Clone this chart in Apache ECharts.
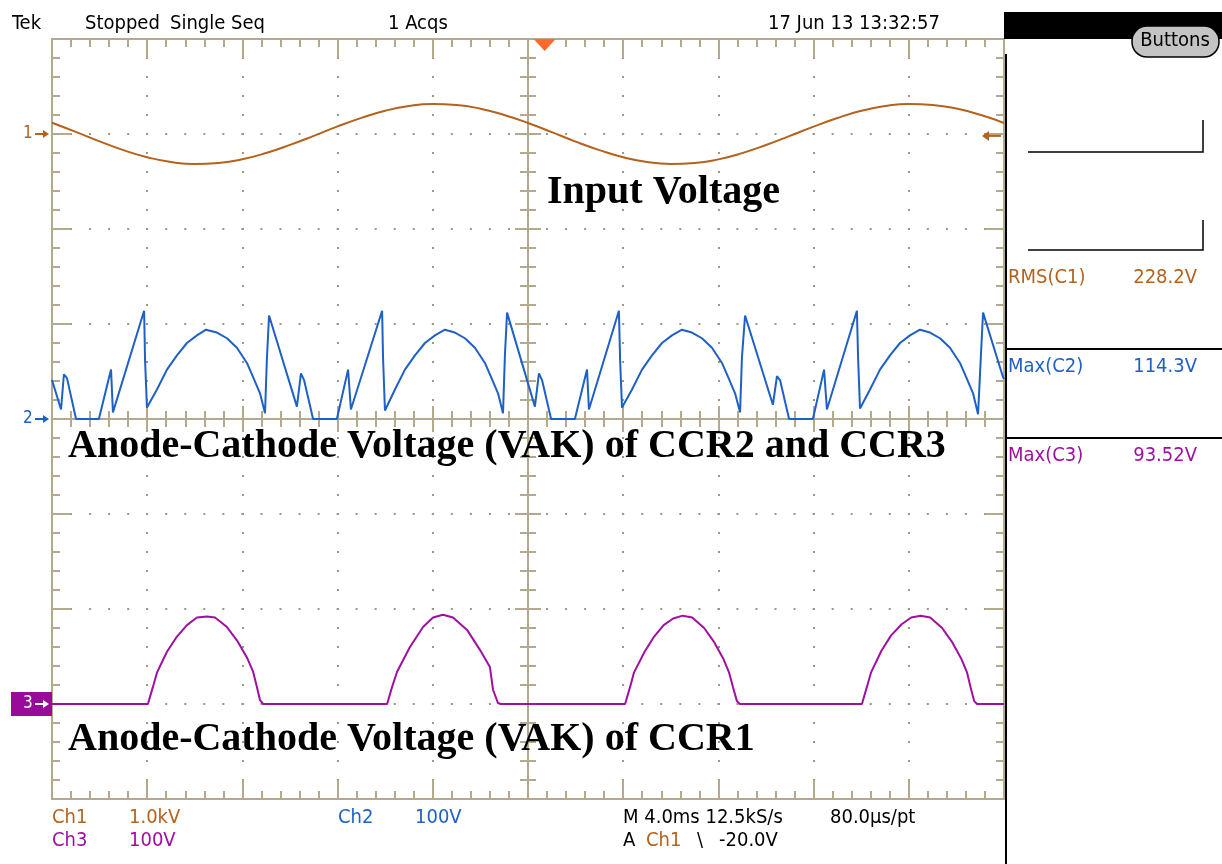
<!DOCTYPE html>
<html>
<head>
<meta charset="utf-8">
<title>Scope capture - CCR voltages</title>
<script src="https://cdn.jsdelivr.net/npm/echarts@6/dist/echarts.min.js"></script>
<style>
  html, body { margin: 0; padding: 0; background: #fff; }
  #chart { width: 1222px; height: 864px; }
</style>
</head>
<body>
<div id="chart"></div>
<script>
// time in ms (4 ms/div, 10 div), values in volts
const ch1Time = [0, 1, 2, 3, 4, 5, 6, 7, 8, 9, 10, 11, 12, 13, 14, 15, 16, 17, 18, 19, 20,
  21, 22, 23, 24, 25, 26, 27, 28, 29, 30, 31, 32, 33, 34, 35, 36, 37, 38, 39, 40]
const ch1Volts = [118, 22, -78, -170, -244, -295, -316, -305, -266, -200, -115, -20, 80, 170, 245, 295, 316, 306, 266, 200, 116,
  20, -80, -170, -245, -295, -315, -306, -267, -201, -116, -20, 78, 168, 244, 294, 316, 306, 268, 202, 116]

const ch2Time = [0.00, 0.38, 0.50, 0.63, 1.01, 1.97, 2.48, 2.56, 3.87, 3.91, 3.99,
  4.41, 4.83, 5.25, 5.67, 6.09, 6.47, 6.93, 7.35, 7.77, 8.19, 8.45, 8.74, 8.95,
  9.03, 9.12, 10.29, 10.46, 10.59, 10.97, 11.97, 12.44, 12.56, 13.87, 13.91, 13.99,
  14.41, 14.83, 15.25, 15.67, 16.09, 16.51, 16.93, 17.35, 17.77, 18.19, 18.45, 18.74, 18.95,
  19.03, 19.12, 20.29, 20.46, 20.59, 20.97, 21.97, 22.48, 22.56, 23.82, 23.87, 23.95,
  24.37, 24.79, 25.21, 25.63, 26.05, 26.47, 26.89, 27.31, 27.73, 28.15, 28.41, 28.70, 28.91,
  28.99, 29.12, 30.29, 30.46, 30.59, 30.97, 31.97, 32.44, 32.56, 33.82, 33.87, 33.95,
  34.37, 34.79, 35.21, 35.63, 36.05, 36.47, 36.89, 37.31, 37.73, 38.15, 38.41, 38.70, 38.91,
  39.03, 39.12, 39.96, 40.00]
const ch2Volts = [41, 10, 47, 43, 0, 0, 52, 7, 114, 62, 12,
  31, 52, 67, 80, 88, 94, 91, 85, 75, 59, 44, 27, 6,
  64, 109, 13, 48, 41, 0, 0, 52, 10, 114, 64, 9,
  31, 52, 67, 80, 88, 94, 91, 85, 75, 59, 44, 27, 6,
  67, 112, 13, 48, 41, 0, 0, 52, 10, 114, 62, 12,
  31, 52, 67, 80, 88, 94, 91, 85, 75, 59, 44, 27, 7,
  65, 109, 15, 45, 41, 0, 0, 52, 10, 114, 64, 11,
  31, 52, 67, 80, 88, 94, 91, 85, 75, 59, 44, 27, 5,
  67, 112, 44, 42]

const ch3Time = [0, 4.03, 4.24, 4.41, 4.83, 5.25, 5.67, 6.09, 6.51, 6.85, 7.35, 7.77, 8.19, 8.45, 8.61, 8.74, 8.87,
  14.08, 14.29, 14.50, 15.04, 15.59, 16.01, 16.43, 16.85, 17.44, 17.98, 18.40, 18.53, 18.74, 18.85,
  24.08, 24.29, 24.45, 24.90, 25.30, 25.70, 26.10, 26.50, 26.90, 27.40, 27.80, 28.20, 28.45, 28.62, 28.78, 28.90,
  34.03, 34.24, 34.41, 34.85, 35.25, 35.70, 36.10, 36.50, 36.90, 37.40, 37.80, 38.20, 38.45, 38.60, 38.75, 38.87, 40]
const ch3Volts = [0, 0, 18, 33, 55, 71, 83, 91, 92, 91, 81, 67, 49, 34, 18, 4, 0,
  0, 18, 34, 60, 81, 91, 94, 91, 78, 57, 39, 15, 1, 0,
  0, 18, 33, 55, 71, 83, 90, 93, 91, 80, 66, 48, 33, 17, 3, 0,
  0, 18, 33, 56, 72, 84, 91, 93, 91, 80, 66, 48, 33, 17, 3, 0, 0]

const triggerTime = 20.7
const triggerLevel = -20

const statusText = ['Tek', 'Stopped', 'Single Seq', '1 Acqs', '17 Jun 13 13:32:57']
const readoutNames = ['RMS(C1)', 'Max(C2)', 'Max(C3)']
const readoutValues = ['228.2V', '114.3V', '93.52V']
const channelNames = ['Ch1', 'Ch2', 'Ch3']
const channelScales = ['1.0kV', '100V', '100V']
const timebaseText = ['M 4.0ms 12.5kS/s', '80.0\u00b5s/pt']
const triggerText = ['A', 'Ch1', '\\', '-20.0V']
const captions = ['Input Voltage', 'Anode-Cathode Voltage (VAK) of CCR2 and CCR3', 'Anode-Cathode Voltage (VAK) of CCR1']

const colors = { ch1: '#b5621c', ch2: '#1f60c4', ch3: '#a010a0' }
const grat = '#b3aa8e'
const dotColor = '#9e977f'
const scopeFont = '20px "DejaVu Sans Condensed", "DejaVu Sans", sans-serif'
const markerFont = '17px "DejaVu Sans Condensed", "DejaVu Sans", sans-serif'
const captionFont = 'bold 40px "Liberation Serif", "Times New Roman", serif'

const zip = (ts, vs) => ts.map((t, i) => [t, vs[i]])

const chart = echarts.init(document.getElementById('chart'))

const lineSt = { color: grat, width: 2 }

function timeAxis(position, inside, major, minor, onZero, split) {
  return {
    type: 'value', min: 0, max: 40, interval: 4, position: position,
    axisLine: { show: true, onZero: onZero, onZeroAxisIndex: onZero ? 1 : undefined, lineStyle: lineSt },
    axisTick: { show: true, inside: inside, length: major, lineStyle: lineSt },
    minorTick: { show: true, splitNumber: 5, length: minor, lineStyle: lineSt },
    axisLabel: { show: false },
    splitLine: split
      ? { show: true, lineStyle: { color: dotColor, width: 2, type: [2, 17], dashOffset: 1 } }
      : { show: false }
  }
}

function divAxis(position, inside, major, minor, onZero, split) {
  return {
    type: 'value', min: -400, max: 400, interval: 100, position: position,
    axisLine: { show: true, onZero: onZero, onZeroAxisIndex: onZero ? 2 : undefined, lineStyle: lineSt },
    axisTick: { show: true, inside: inside, length: major, lineStyle: lineSt },
    minorTick: { show: true, splitNumber: 5, length: minor, lineStyle: lineSt },
    axisLabel: { show: false },
    splitLine: split
      ? { show: true, lineStyle: { color: dotColor, width: 2, type: [2, 17.04], dashOffset: 1 } }
      : { show: false }
  }
}

function trace(name, yIndex, data, color, smooth) {
  return {
    name: name, type: 'line', xAxisIndex: 0, yAxisIndex: yIndex,
    data: data, showSymbol: false, symbol: 'none', smooth: smooth,
    lineStyle: { color: color, width: 2 }, z: 5
  }
}

chart.setOption({
  animation: false,
  backgroundColor: '#fff',
  grid: { left: 52, top: 39, width: 952, height: 760, containLabel: false, outerBoundsMode: 'none' },
  xAxis: [
    timeAxis('bottom', true, 19, 8, false, true),
    timeAxis('top', true, 19, 8, false, false),
    { type: 'value', min: -20, max: 20, show: false },
    timeAxis('bottom', true, 13, 8, true, false),
    timeAxis('bottom', false, 13, 8, true, false)
  ],
  yAxis: [
    { type: 'value', min: -7000, max: 1000, show: false },
    divAxis('left', true, 19, 8, false, true),
    { type: 'value', min: -100, max: 700, show: false },
    divAxis('right', true, 19, 8, false, false),
    divAxis('left', true, 13, 8, true, false),
    divAxis('left', false, 13, 8, true, false)
  ],
  series: [
    trace('Ch1', 0, zip(ch1Time, ch1Volts), colors.ch1, true),
    trace('Ch2', 1, zip(ch2Time, ch2Volts), colors.ch2, false),
    trace('Ch3', 2, zip(ch3Time, ch3Volts), colors.ch3, false)
  ]
})

// overlay: readouts, captions and the markers placed from the axes
const g1 = chart.convertToPixel({ yAxisIndex: 0 }, 0)
const g2 = chart.convertToPixel({ yAxisIndex: 1 }, 0)
const g3 = chart.convertToPixel({ yAxisIndex: 2 }, 0)
const gTrig = chart.convertToPixel({ yAxisIndex: 0 }, triggerLevel)
const xTrig = chart.convertToPixel({ xAxisIndex: 0 }, triggerTime)
const xRight = chart.convertToPixel({ xAxisIndex: 0 }, 40)

function txt(x, y, s, fill, font, align) {
  return { type: 'text', x: x, y: y, silent: true, z: 30,
    style: { text: s, fill: fill, font: font || scopeFont, align: align || 'left', verticalAlign: 'middle' } }
}
function seg(points, stroke, w) {
  return { type: 'polyline', silent: true, z: 20, shape: { points: points }, style: { stroke: stroke, lineWidth: w || 2, fill: null } }
}
function arrowRight(x, y, color) {
  return [
    seg([[x, y], [x + 9, y]], color, 2),
    { type: 'polygon', silent: true, z: 21, shape: { points: [[x + 8, y - 4], [x + 14, y], [x + 8, y + 4]] }, style: { fill: color } }
  ]
}

const gfx = []
// status line
const statusX = [12, 85, 170, 388, 768]
statusText.forEach((s, i) => gfx.push(txt(statusX[i], 24, s, '#000')))

// channel ground markers
gfx.push(txt(23, g1, '1', colors.ch1, markerFont))
gfx.push(...arrowRight(35, g1, colors.ch1))
gfx.push(txt(23, g2, '2', colors.ch2, markerFont))
gfx.push(...arrowRight(35, g2, colors.ch2))
gfx.push({ type: 'rect', silent: true, z: 20, shape: { x: 11, y: g3 - 12, width: 41, height: 24 }, style: { fill: '#9a0a9a' } })
gfx.push(txt(23, g3, '3', '#fff', markerFont))
gfx.push(...arrowRight(35, g3, '#fff'))

// trigger position and level
gfx.push({ type: 'polygon', silent: true, z: 22, shape: { points: [[xTrig - 11, 39], [xTrig + 11, 39], [xTrig, 51]] }, style: { fill: '#ff6a2b' } })
gfx.push({ type: 'polygon', silent: true, z: 22, shape: { points: [[xRight - 22, gTrig], [xRight - 15, gTrig - 5], [xRight - 15, gTrig + 5]] }, style: { fill: colors.ch1 } })
gfx.push(seg([[xRight - 16, gTrig], [xRight - 3, gTrig]], colors.ch1, 2))

// captions
gfx.push(txt(547, 193, captions[0], '#000', captionFont))
gfx.push(txt(68, 447, captions[1], '#000', captionFont))
gfx.push(txt(68, 740, captions[2], '#000', captionFont))

// side panel
gfx.push({ type: 'rect', silent: true, z: 20, shape: { x: 1004, y: 12, width: 218, height: 27 }, style: { fill: '#000' } })
gfx.push({ type: 'rect', silent: true, z: 21, shape: { x: 1132, y: 26, width: 87, height: 31, r: 15 }, style: { fill: '#c4c4c4', stroke: '#000', lineWidth: 1.5 } })
gfx.push(txt(1175, 41, 'Buttons', '#000', null, 'center'))
gfx.push(seg([[1006, 54], [1006, 864]], '#000', 2))
gfx.push(seg([[1028, 152], [1203, 152], [1203, 120]], '#000', 1.5))
gfx.push(seg([[1028, 250], [1203, 250], [1203, 220]], '#000', 1.5))
gfx.push(seg([[1006, 349], [1222, 349]], '#000', 2))
gfx.push(seg([[1006, 438], [1222, 438]], '#000', 2))
const readY = [278, 367, 456]
const readC = [colors.ch1, colors.ch2, colors.ch3]
readoutNames.forEach((s, i) => {
  gfx.push(txt(1008, readY[i], s, readC[i]))
  gfx.push(txt(1197, readY[i], readoutValues[i], readC[i], null, 'right'))
})

// bottom readout
gfx.push(txt(52, 818, channelNames[0], colors.ch1))
gfx.push(txt(129, 818, channelScales[0], colors.ch1))
gfx.push(txt(338, 818, channelNames[1], colors.ch2))
gfx.push(txt(415, 818, channelScales[1], colors.ch2))
gfx.push(txt(52, 841, channelNames[2], colors.ch3))
gfx.push(txt(129, 841, channelScales[2], colors.ch3))
gfx.push(txt(623, 818, timebaseText[0], '#000'))
gfx.push(txt(830, 818, timebaseText[1], '#000'))
gfx.push(txt(623, 841, triggerText[0], '#000'))
gfx.push(txt(646, 841, triggerText[1], colors.ch1))
gfx.push(txt(697, 841, triggerText[2], '#000'))
gfx.push(txt(719, 841, triggerText[3], '#000'))

chart.setOption({ graphic: gfx })
</script>
</body>
</html>
